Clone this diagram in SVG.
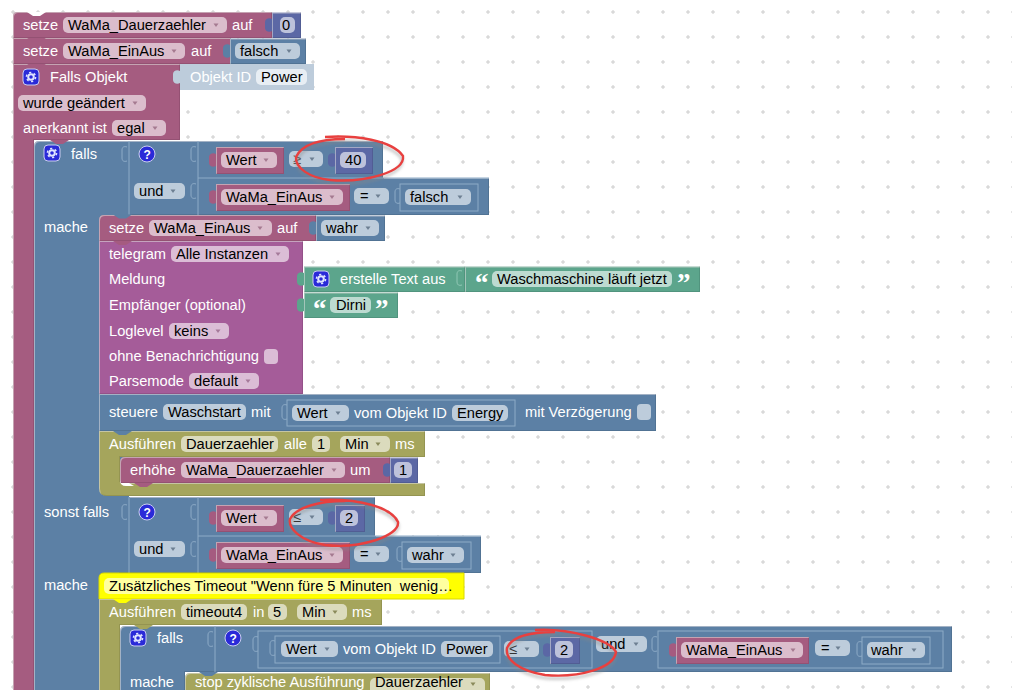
<svg xmlns="http://www.w3.org/2000/svg" width="1012" height="690" viewBox="0 0 1012 690">
<style>
text{font-family:"Liberation Sans",Arial,sans-serif;font-size:14.67px;fill:#fff}
text.k{fill:#000}
text.q{font-family:"Liberation Serif",serif;font-size:27px;font-weight:bold}
.pk{fill:#a55b80;filter:url(#bv)}
.bl{fill:#5b80a5;filter:url(#bv)}
.gn{fill:#5ba58c;filter:url(#bv)}
.pu{fill:#a55b99;filter:url(#bv)}
.ol{fill:#a5a55b;filter:url(#bv)}
.in{fill:#5b67a5;filter:url(#bv)}
.sh{fill:#bdccdb}
.fp{fill:#dbbdcc}.fb{fill:#bdccdb}.fo{fill:#dbdbbd}.fu{fill:#dbbdd6}.fg{fill:#bddbd1}.fi{fill:#bdc2db}.fw{fill:#e8eef4}
.ln{fill:none;stroke:#8dabc7;stroke-width:1}
.tab{stroke:#c9d6e3;stroke-width:.6}
.sock{fill:none;stroke:#8dabc7;stroke-width:1}
.ar{fill:#6d7f92}
.icon{fill:#2a2ad8;stroke:#c9ccf0;stroke-width:1}
.red{fill:none;stroke:#e8403f;stroke-width:2.4}
.redsh{fill:none;stroke:#888;stroke-width:3;opacity:.45;filter:url(#blur)}
</style>
<defs>
<filter id="blur"><feGaussianBlur stdDeviation="1.6"/></filter>
<filter id="bv" x="-2%" y="-5%" width="104%" height="110%">
<feOffset in="SourceAlpha" dx="1" dy="1" result="o1"/>
<feComposite in="SourceAlpha" in2="o1" operator="out" result="tl"/>
<feFlood flood-color="#fff" flood-opacity=".3"/><feComposite in2="tl" operator="in" result="lt"/>
<feOffset in="SourceAlpha" dx="-1" dy="-1" result="o2"/>
<feComposite in="SourceAlpha" in2="o2" operator="out" result="br"/>
<feFlood flood-color="#000" flood-opacity=".2"/><feComposite in2="br" operator="in" result="dk"/>
<feMerge><feMergeNode in="SourceGraphic"/><feMergeNode in="lt"/><feMergeNode in="dk"/></feMerge>
</filter>
<pattern id="grid" x="13" y="12" width="25" height="25" patternUnits="userSpaceOnUse"><path d="M0,-2V2M-2,0H2M25,-2V2M23,0H27M0,23V27M-2,25H2M25,23V27M23,25H27" stroke="#ccc" stroke-width="1"/></pattern>
<path id="tab" d="M0,0v2c-3,-2 -7,0 -7,3v6c0,3 4,5 7,3v3z"/>
<path id="soc" d="M0,0c-3,-1 -5,0 -5,3v8c0,3 2,4 5,3"/>
<path id="notch" d="M0,0l6,4h7l6,-4z"/>
<path id="arr" d="M-2.500,-1.500h5l-2.500,3.500z"/>
<g id="gear"><rect x="0" y="0" width="16" height="16" rx="4" class="icon"/><circle cx="8" cy="8" r="2.800" fill="none" stroke="#dfe4ff" stroke-width="2"/><circle cx="8" cy="8" r="4.600" fill="none" stroke="#dfe4ff" stroke-width="1.500" stroke-dasharray="2.200 2.600"/></g>
<g id="qm"><circle cx="0" cy="0" r="8" fill="#2a2ad8" stroke="#c9ccf0" stroke-width="1"/><text x="-3.500" y="4.500" style="font-size:12px;font-weight:bold">?</text></g>
</defs>
<rect width="1012" height="690" fill="#fff"/>
<rect width="1012" height="690" fill="url(#grid)"/>

<g id="spine-falls-objekt"><path class="pk" d="M13,64H180V140H34V700H13Z"/></g>
<g id="set-dauerzaehler">
<path class="pk" d="M13,16q0,-4 4,-4H272V38H13Z"/>
<use href="#notch" x="27" y="12" fill="#fff"/>
<rect class="fp" x="63" y="17" width="164" height="16" rx="5"/><text class="k" x="68" y="30">WaMa_Dauerzaehler</text><use href="#arr" x="216" y="25" fill="#a57a90"/>
<text x="23" y="30">setze</text><text x="232" y="30">auf</text>
<rect class="in" x="272" y="12.500" width="29" height="25.500"/><use href="#tab" x="272" y="17" fill="#5b67a5"/>
<rect class="fi" x="280" y="17" width="15" height="16" rx="5"/><text class="k" x="282" y="30">0</text>
</g>
<g id="set-einaus">
<path class="pk" d="M13,38H231V64H13Z"/>
<use href="#notch" x="27" y="38" fill="#a55b80"/>
<text x="23" y="56">setze</text><rect class="fp" x="63" y="43" width="122" height="16" rx="5"/><text class="k" x="68" y="56">WaMa_EinAus</text><use href="#arr" x="174" y="51" fill="#a57a90"/><text x="191" y="56">auf</text>
<rect class="bl" x="230" y="38.500" width="76" height="25.500"/><use href="#tab" x="230" y="43" fill="#5b80a5"/>
<rect class="fb" x="235" y="43" width="65" height="16" rx="5"/><text class="k" x="240" y="56">falsch</text><use href="#arr" x="289" y="51" class="ar"/>
</g>
<g id="falls-objekt">
<use href="#notch" x="27" y="64" fill="#a55b80"/>
<use href="#gear" x="23" y="69"/><text x="50" y="82">Falls Objekt</text>
<rect class="sh" x="180" y="64" width="134" height="26"/><use href="#tab" x="180" y="69" fill="#bdccdb"/>
<text x="190" y="82">Objekt ID</text><rect class="fw" x="256" y="69" width="51" height="16" rx="5"/><text class="k" x="261" y="82">Power</text>
<rect class="fp" x="18" y="95" width="128" height="16" rx="5"/><text class="k" x="23" y="108">wurde geändert</text><use href="#arr" x="135" y="103" fill="#a57a90"/>
<text x="23" y="133">anerkannt ist</text><rect class="fp" x="112" y="120" width="54" height="16" rx="5"/><text class="k" x="117" y="133">egal</text><use href="#arr" x="155" y="128" fill="#a57a90"/>
</g>
<g id="falls">
<path class="bl" d="M34,146q0,-5 5,-5H383V178H489V215H129V497H375V536H481V573H120V700H34Z"/>
<use href="#notch" x="50" y="140" fill="#a55b80"/>
<use href="#gear" x="44" y="145"/><text x="71" y="159">falls</text>
<path class="ln" d="M129,141V215M198,141V215M198,178H489M129,497V573M198,497V573M198,536H481"/>
<use href="#soc" x="127" y="147" class="sock"/><use href="#soc" x="196" y="147" class="sock"/><use href="#soc" x="196" y="184" class="sock"/>
<use href="#soc" x="127" y="505" class="sock"/><use href="#soc" x="196" y="505" class="sock"/><use href="#soc" x="196" y="542" class="sock"/>
<use href="#qm" x="147" y="154"/>
<rect class="fb" x="134" y="183" width="51" height="16" rx="5"/><text class="k" x="139" y="196">und</text><use href="#arr" x="173" y="191" class="ar"/>
<rect class="pk" x="216" y="147" width="68" height="27"/><use href="#tab" x="216" y="152" fill="#a55b80"/><rect class="fp" x="221" y="152" width="56" height="16" rx="5"/><text class="k" x="226" y="165">Wert</text><use href="#arr" x="266" y="160" fill="#a57a90"/>
<rect class="fb" x="289" y="151" width="34" height="16" rx="5"/><text class="k" x="293" y="164" style="fill:#555">≥</text><use href="#arr" x="312" y="159" class="ar"/>
<rect class="in" x="335" y="147" width="38" height="27"/><use href="#tab" x="335" y="152" fill="#5b67a5"/><rect class="fi" x="340" y="152" width="26" height="16" rx="5"/><text class="k" x="345" y="165">40</text>
<rect class="pk" x="216" y="184" width="134" height="27"/><use href="#tab" x="216" y="189" fill="#a55b80"/><rect class="fp" x="221" y="189" width="122" height="16" rx="5"/><text class="k" x="226" y="202">WaMa_EinAus</text><use href="#arr" x="332" y="197" fill="#a57a90"/>
<rect class="fb" x="354" y="188" width="35" height="16" rx="5"/><text class="k" x="360" y="201">=</text><use href="#arr" x="378" y="196" class="ar"/>
<rect class="ln" x="400" y="184" width="78" height="27"/><use href="#soc" x="400" y="189" class="sock"/><rect class="fb" x="405" y="189" width="66" height="16" rx="5"/><text class="k" x="410" y="202">falsch</text><use href="#arr" x="460" y="197" class="ar"/>
<text x="44" y="232">mache</text><text x="44" y="517">sonst falls</text><text x="44" y="590">mache</text>
<use href="#qm" x="147" y="512"/>
<rect class="pk" x="216" y="505" width="68" height="27"/><use href="#tab" x="216" y="510" fill="#a55b80"/><rect class="fp" x="221" y="510" width="56" height="16" rx="5"/><text class="k" x="226" y="523">Wert</text><use href="#arr" x="266" y="518" fill="#a57a90"/>
<rect class="fb" x="289" y="509" width="34" height="16" rx="5"/><text class="k" x="293" y="522" style="fill:#333">≤</text><use href="#arr" x="312" y="517" class="ar"/>
<rect class="in" x="335" y="505" width="30" height="27"/><use href="#tab" x="335" y="510" fill="#5b67a5"/><rect class="fi" x="340" y="510" width="18" height="16" rx="5"/><text class="k" x="345" y="523">2</text>
<rect class="fb" x="134" y="541" width="51" height="16" rx="5"/><text class="k" x="139" y="554">und</text><use href="#arr" x="173" y="549" class="ar"/>
<rect class="pk" x="216" y="542" width="134" height="27"/><use href="#tab" x="216" y="547" fill="#a55b80"/><rect class="fp" x="221" y="547" width="122" height="16" rx="5"/><text class="k" x="226" y="560">WaMa_EinAus</text><use href="#arr" x="332" y="555" fill="#a57a90"/>
<rect class="fb" x="354" y="546" width="35" height="16" rx="5"/><text class="k" x="360" y="559">=</text><use href="#arr" x="378" y="554" class="ar"/>
<rect class="ln" x="402" y="542" width="69" height="27"/><use href="#soc" x="402" y="547" class="sock"/><rect class="fb" x="407" y="547" width="57" height="16" rx="5"/><text class="k" x="412" y="560">wahr</text><use href="#arr" x="453" y="555" class="ar"/>
</g>
<g id="set-einaus-wahr">
<path class="pk" d="M99,220q0,-5 5,-5H316V241H99Z"/>
<use href="#notch" x="113" y="214.500" fill="#5b80a5"/>
<text x="109" y="233">setze</text><rect class="fp" x="149" y="220" width="123" height="16" rx="5"/><text class="k" x="154" y="233">WaMa_EinAus</text><use href="#arr" x="260" y="228" fill="#a57a90"/><text x="277" y="233">auf</text>
<rect class="bl" x="316" y="215.500" width="69" height="25.500"/><use href="#tab" x="316" y="220" fill="#5b80a5"/>
<rect class="fb" x="321" y="220" width="58" height="16" rx="5"/><text class="k" x="326" y="233">wahr</text><use href="#arr" x="368" y="228" class="ar"/>
</g>
<g id="telegram">
<rect class="pu" x="99" y="241" width="204" height="153"/>
<use href="#notch" x="113" y="241" fill="#a55b80"/>
<text x="109" y="259">telegram</text><rect class="fu" x="171" y="246" width="118" height="16" rx="5"/><text class="k" x="176" y="259">Alle Instanzen</text><use href="#arr" x="278" y="254" fill="#a57a9a"/>
<text x="109" y="284">Meldung</text><text x="109" y="310">Empfänger (optional)</text>
<text x="109" y="336">Loglevel</text><rect class="fu" x="169" y="323" width="60" height="16" rx="5"/><text class="k" x="174" y="336">keins</text><use href="#arr" x="218" y="331" fill="#a57a9a"/>
<text x="109" y="361">ohne Benachrichtigung</text><rect class="fu" x="264" y="349" width="14" height="15" rx="4"/>
<text x="109" y="386">Parsemode</text><rect class="fu" x="189" y="373" width="70" height="16" rx="5"/><text class="k" x="194" y="386">default</text><use href="#arr" x="248" y="381" fill="#a57a9a"/>
</g>
<g id="text-erstellen">
<rect class="gn" x="304" y="266.500" width="161" height="25.500"/><use href="#tab" x="304" y="271" fill="#5ba58c"/>
<use href="#gear" x="313" y="271"/><text x="340" y="284">erstelle Text aus</text>
<path d="M462,271c-3,-1 -5,0 -5,3v8c0,3 2,4 5,3" fill="none" stroke="#8fc7b4"/>
<rect class="gn" x="465" y="266.500" width="235" height="25.500"/>
<text class="q" x="475" y="292">“</text>
<rect class="fg" x="492" y="271" width="180" height="16" rx="5"/><text class="k" x="497" y="284">Waschmaschine läuft jetzt</text>
<text class="q" x="677" y="292">”</text>
</g>
<g id="text-dirni">
<rect class="gn" x="304" y="292.500" width="94" height="25.500"/><use href="#tab" x="304" y="297" fill="#5ba58c"/>
<text class="q" x="313" y="318">“</text>
<rect class="fg" x="330" y="297" width="41" height="16" rx="5"/><text class="k" x="336" y="310">Dirni</text>
<text class="q" x="375" y="318">”</text>
</g>
<g id="steuere">
<rect class="bl" x="99" y="394" width="557" height="37"/>
<text x="109" y="417">steuere</text><rect class="fb" x="163" y="404" width="83" height="16" rx="5"/><text class="k" x="168" y="417">Waschstart</text><text x="251" y="417">mit</text>
<rect class="ln" x="287" y="400" width="228" height="26"/><use href="#soc" x="287" y="405" class="sock"/>
<rect class="fb" x="292" y="405" width="57" height="16" rx="5"/><text class="k" x="297" y="418">Wert</text><use href="#arr" x="338" y="413" class="ar"/>
<text x="354" y="418">vom Objekt ID</text><rect class="fb" x="452" y="405" width="56" height="16" rx="5"/><text class="k" x="457" y="418">Energy</text>
<text x="525" y="417">mit Verzögerung</text><rect class="fb" x="637" y="404" width="14" height="16" rx="4"/>
</g>
<g id="ausfuehren-dauerzaehler">
<path class="ol" d="M99,431H425V457H120V483H425V496H107Q99,496 99,488Z"/>
<use href="#notch" x="113" y="431" fill="#5b80a5"/>
<text x="109" y="449">Ausführen</text><rect class="fo" x="181" y="436" width="97" height="16" rx="5"/><text class="k" x="186" y="449">Dauerzaehler</text><text x="284" y="449">alle</text>
<rect class="fo" x="312" y="436" width="18" height="16" rx="5"/><text class="k" x="317" y="449">1</text><rect class="fo" x="340" y="436" width="50" height="16" rx="5"/><text class="k" x="345" y="449">Min</text><use href="#arr" x="378" y="444" fill="#8a8a5a"/><text x="395" y="449">ms</text>
</g>
<g id="erhoehe">
<path class="pk" d="M120,462q0,-5 5,-5H390V483H120Z"/>
<path d="M120,480Q120,486 126,486H134L129,483H120Z" fill="#fff"/>
<use href="#notch" x="134" y="483" fill="#a55b80"/>
<text x="130" y="475">erhöhe</text><rect class="fp" x="181" y="462" width="164" height="16" rx="5"/><text class="k" x="186" y="475">WaMa_Dauerzaehler</text><use href="#arr" x="334" y="470" fill="#a57a90"/><text x="350" y="475">um</text>
<rect class="in" x="390" y="457.500" width="28" height="25.500"/><use href="#tab" x="390" y="462" fill="#5b67a5"/><rect class="fi" x="394" y="462" width="18" height="16" rx="5"/><text class="k" x="399" y="475">1</text>
</g>
<g id="kommentar">
<path d="M99,578q0,-5 5,-5H464V599H99Z" fill="#ff0" stroke="#d8d800"/>
<rect x="104" y="578" width="345" height="16" rx="5" fill="#ffffa0"/>
<text class="k" x="109" y="591" xml:space="preserve">Zusätzliches Timeout "Wenn füre 5 Minuten  wenig…</text>
</g>
<g id="ausfuehren-timeout">
<path class="ol" d="M99,599H382V625H120V700H99Z"/>
<use href="#notch" x="113" y="599" fill="#ff0"/>
<text x="109" y="617">Ausführen</text><rect class="fo" x="181" y="604" width="66" height="16" rx="5"/><text class="k" x="186" y="617">timeout4</text><text x="253" y="617">in</text>
<rect class="fo" x="268" y="604" width="19" height="16" rx="5"/><text class="k" x="273" y="617">5</text><rect class="fo" x="297" y="604" width="50" height="16" rx="5"/><text class="k" x="302" y="617">Min</text><use href="#arr" x="335" y="612" fill="#8a8a5a"/><text x="352" y="617">ms</text>
</g>
<g id="falls-inner">
<path class="bl" d="M120,631q0,-5 5,-5H952V672H185V700H120Z"/>
<use href="#notch" x="134" y="625" fill="#a5a55b"/>
<use href="#gear" x="130" y="630"/><text x="157" y="643">falls</text>
<path class="ln" d="M215,626V672"/><use href="#soc" x="213" y="632" class="sock"/><use href="#soc" x="258" y="637" class="sock"/><use href="#soc" x="275" y="641" class="sock"/>
<use href="#qm" x="233" y="638"/>
<rect class="ln" x="258" y="631" width="334" height="37"/><rect class="ln" x="275" y="636" width="225" height="27"/>
<rect class="fb" x="281" y="641" width="57" height="16" rx="5"/><text class="k" x="286" y="654">Wert</text><use href="#arr" x="327" y="649" class="ar"/>
<text x="343" y="654">vom Objekt ID</text><rect class="fb" x="441" y="641" width="52" height="16" rx="5"/><text class="k" x="446" y="654">Power</text>
<rect class="fb" x="504" y="641" width="35" height="16" rx="5"/><text class="k" x="509" y="654" style="fill:#333">≤</text><use href="#arr" x="527" y="649" class="ar"/>
<rect class="in" x="550" y="637" width="30" height="27"/><use href="#tab" x="550" y="642" fill="#5b67a5"/><rect class="fi" x="555" y="641" width="18" height="17" rx="5"/><text class="k" x="560" y="655">2</text>
<rect class="fb" x="596" y="636" width="51" height="16" rx="5"/><text class="k" x="601" y="649">und</text><use href="#arr" x="636" y="644" class="ar"/>
<rect class="ln" x="658" y="631" width="285" height="37"/><use href="#soc" x="657" y="637" class="sock"/>
<rect class="pk" x="676" y="637" width="133" height="27"/><use href="#tab" x="676" y="642" fill="#a55b80"/><rect class="fp" x="681" y="642" width="122" height="16" rx="5"/><text class="k" x="686" y="655">WaMa_EinAus</text><use href="#arr" x="793" y="650" fill="#a57a90"/>
<rect class="fb" x="815" y="640" width="35" height="16" rx="5"/><text class="k" x="821" y="653">=</text><use href="#arr" x="838" y="648" class="ar"/>
<rect class="ln" x="862" y="637" width="68" height="27"/><use href="#soc" x="862" y="642" class="sock"/><rect class="fb" x="867" y="642" width="58" height="16" rx="5"/><text class="k" x="871" y="655">wahr</text><use href="#arr" x="914" y="650" class="ar"/>
<text x="130" y="687">mache</text>
</g>
<g id="stop">
<path class="ol" d="M185,678q0,-5 5,-5H490V700H185Z"/>
<use href="#notch" x="199" y="672" fill="#5b80a5"/>
<text x="195" y="686.500">stop zyklische Ausführung</text><rect class="fo" x="370" y="678" width="115" height="16" rx="5"/><text class="k" x="375" y="686.500">Dauerzaehler</text><use href="#arr" x="473" y="684" fill="#8a8a5a"/>
</g>
<g id="markierungen">
<path class="redsh" d="M325,138C355,136 392,140 402,156C404,172 365,183 330,180C310,178 295,168 297,157C302,144 322,139 345,139" transform="translate(0,3)"/>
<path class="red" d="M325,137C355,135 392,140 403,156C405,172 365,183 330,180C310,178 295,168 296,157C302,144 322,139 345,139"/>
<path class="redsh" d="M325,500C360,498 392,508 398,522C400,536 360,549 325,545C300,541 288,528 290,519C296,507 320,501 345,501" transform="translate(0,3)"/>
<path class="red" d="M320,500C360,498 392,508 398,522C400,536 360,549 325,545C300,541 288,528 290,519C296,507 320,501 345,501"/>
<path class="redsh" d="M535,630C570,628 610,640 616,652C614,668 580,678 545,675C520,671 505,660 507,648C512,636 530,632 555,632" transform="translate(0,3)"/>
<path class="red" d="M535,630C570,628 610,640 616,652C614,668 580,678 545,675C520,671 505,660 507,648C512,636 530,632 555,632"/>
</g>
</svg>
